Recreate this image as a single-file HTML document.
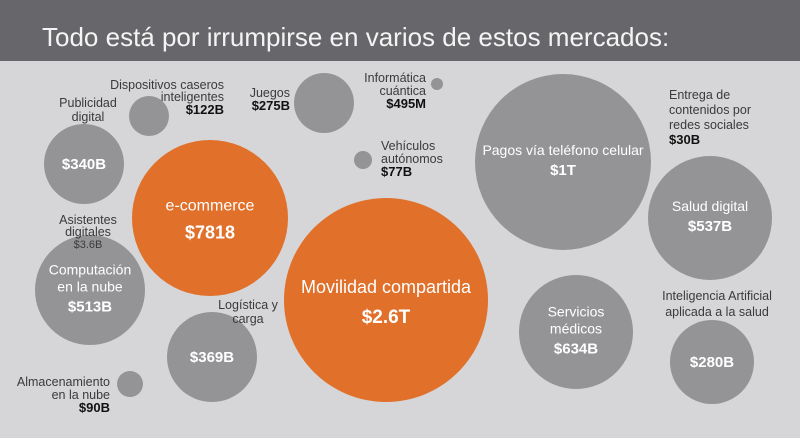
<!DOCTYPE html>
<html><head><meta charset="utf-8">
<style>
html,body{margin:0;padding:0;background:#d6d6d8;}
svg{display:block;font-family:"Liberation Sans",sans-serif;}
.l{fill:#3a3a3c;font-size:12.5px;}
.v{fill:#111;font-size:13px;font-weight:bold;}
.wl{fill:#fff;font-size:14px;}
.wv{fill:#fff;font-size:15px;font-weight:bold;}
</style></head><body>
<svg id="chart" width="800" height="438" viewBox="0 0 800 438">
<rect x="0" y="0" width="800" height="438" fill="#d6d6d8"/>
<rect x="0" y="0" width="800" height="61" fill="#67676b"/>
<text x="42" y="46" fill="#f4f4f4" font-size="26" font-weight="300">Todo está por irrumpirse en varios de estos mercados:</text>
<g id="bubbles"></g>
<g>
<text class="l" x="88" y="107" text-anchor="middle">Publicidad</text>
<text class="l" x="88" y="121" text-anchor="middle">digital</text>
<text class="l" x="224" y="89" text-anchor="end">Dispositivos caseros</text>
<text class="l" x="224" y="101" text-anchor="end">inteligentes</text>
<text class="v" x="224" y="114" text-anchor="end">$122B</text>
<text class="l" x="290" y="97" text-anchor="end">Juegos</text>
<text class="v" x="290" y="110" text-anchor="end">$275B</text>
<text class="l" x="426" y="82" text-anchor="end">Informática</text>
<text class="l" x="426" y="95" text-anchor="end">cuántica</text>
<text class="v" x="426" y="108" text-anchor="end">$495M</text>
<text class="l" x="381" y="150">Vehículos</text>
<text class="l" x="381" y="163">autónomos</text>
<text class="v" x="381" y="176">$77B</text>
<text class="l" x="669" y="99">Entrega de</text>
<text class="l" x="669" y="114">contenidos por</text>
<text class="l" x="669" y="129">redes sociales</text>
<text class="v" x="669" y="144">$30B</text>
<text class="l" x="88" y="224" text-anchor="middle">Asistentes</text>
<text class="l" x="88" y="236" text-anchor="middle">digitales</text>
<text class="l" x="88" y="248" text-anchor="middle" style="font-size:11px">$3.6B</text>
<text class="l" x="248" y="309" text-anchor="middle">Logística y</text>
<text class="l" x="248" y="323" text-anchor="middle">carga</text>
<text class="l" x="717" y="300" text-anchor="middle">Inteligencia Artificial</text>
<text class="l" x="717" y="316" text-anchor="middle">aplicada a la salud</text>
<text class="l" x="110" y="386" text-anchor="end">Almacenamiento</text>
<text class="l" x="110" y="399" text-anchor="end">en la nube</text>
<text class="v" x="110" y="412" text-anchor="end">$90B</text>
</g>
</svg>
<script>
const names = ["publicidad","dispositivos","juegos","cuantica","vehiculos","ecommerce","movilidad","pagos","salud","servicios","ia-salud","computacion","logistica","almacenamiento"];
const values = [340,122,275,0.495,77,781,2600,1000,537,634,280,513,369,90];
const insideLabels = [["","$340B"],["",""],["",""],["",""],["",""],["e-commerce","$7818"],["Movilidad compartida","$2.6T"],["Pagos vía teléfono celular","$1T"],["Salud digital","$537B"],["Servicios|médicos","$634B"],["","$280B"],["Computación|en la nube","$513B"],["","$369B"],["",""]];
const orange = [0,0,0,0,0,1,1,0,0,0,0,0,0,0];
const layout = [[84,164,40],[149,116,20],[324,103,30],[437,84,6],[363,160,9],[210,218,78],[386,300,102],[563,162,88],[710,218,62],[576,332,57],[712,362,42],[90,290,55],[212,357,45],[130,384,13]];
const NS="http://www.w3.org/2000/svg";
const g=document.getElementById('bubbles');
names.forEach((n,i)=>{
  const [cx,cy,r]=layout[i];
  const c=document.createElementNS(NS,'circle');
  c.setAttribute('cx',cx);c.setAttribute('cy',cy);c.setAttribute('r',r);
  c.setAttribute('fill',orange[i]?'#e0702a':'#949497');
  
  
  g.appendChild(c);
  const [lab,val]=insideLabels[i];
  const lines=lab?lab.split('|'):[];
  const huge=r>95, big=r>70 && orange[i];
  const lfs=huge?18:(big?16:14);
  const vfs=huge?19:(big?18:15);
  const lh=lfs+3;
  let total=lines.length*lh+(val?vfs+6:0);
  let y=cy-total/2+lfs-2;
  lines.forEach(t=>{
    const e=document.createElementNS(NS,'text');
    e.setAttribute('x',cx);e.setAttribute('y',y);e.setAttribute('text-anchor','middle');
    e.setAttribute('class','wl');
    e.style.fontSize=lfs+'px';
    e.textContent=t;
    
    
    g.appendChild(e);y+=lh+(huge||big?6:0);
  });
  if(val){
    const e=document.createElementNS(NS,'text');
    e.setAttribute('x',cx);e.setAttribute('y',lines.length?y+3:cy+5);e.setAttribute('text-anchor','middle');
    e.setAttribute('class','wv');
    e.style.fontSize=vfs+'px';
    e.textContent=val;
    
    
    g.appendChild(e);
  }
});
</script>
</body></html>
